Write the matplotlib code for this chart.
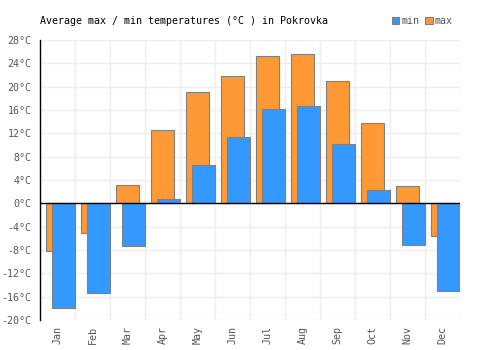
import numpy as np
import matplotlib
matplotlib.use("Agg")
import matplotlib.pyplot as plt

months = ["Jan", "Feb", "Mar", "Apr", "May", "Jun", "Jul", "Aug", "Sep", "Oct", "Nov", "Dec"]
t_max = [-8.2, -5.1, 3.1, 12.5, 19.1, 21.8, 25.2, 25.6, 20.9, 13.7, 2.9, -5.6]
t_min = [-18.0, -15.4, -7.3, 0.7, 6.5, 11.3, 16.1, 16.7, 10.1, 2.3, -7.2, -15.1]
yticks = list(range(-20, 29, 4))

plt.rcParams['font.family'] = ['DejaVu Sans Mono']
plt.rcParams['font.size'] = 7.2

fig = plt.figure(figsize=(5, 3.5), dpi=100)
ax = fig.add_axes([0.08, 0.0857, 0.84, 0.8])

x = np.arange(len(months))
ax.bar(x + 0.01, t_max, width=0.66, color="#ff9933", edgecolor="#808080", linewidth=0.8, zorder=2, label="max")
ax.bar(x + 0.17, t_min, width=0.68, color="#3399ff", edgecolor="#808080", linewidth=0.8, zorder=3, label="min")
ax.axhline(0, color="black", linewidth=1, zorder=4)

ax.set_xlim(-0.5, 11.5)
ax.set_ylim(-20, 28)
ax.set_yticks(yticks)
ax.set_yticklabels([str(v) + "°C" for v in yticks], color="#555555")
ax.set_xticks(x)
ax.set_xticklabels(months, rotation=90, color="#555555")
ax.set_xticks(np.arange(-0.5, 12, 1), minor=True)
ax.tick_params(axis="both", which="both", length=0)
ax.tick_params(axis="y", pad=6)
ax.tick_params(axis="x", pad=4)
ax.grid(True, axis="y", which="major", color="#eeeeee", linewidth=1, zorder=0)
ax.grid(True, axis="x", which="minor", color="#eeeeee", linewidth=1, zorder=0)
ax.set_axisbelow(True)
for s in ["top", "right", "bottom"]:
    ax.spines[s].set_visible(False)
ax.spines["left"].set_color("black")
ax.spines["left"].set_linewidth(1)

fig.text(0.08, 0.94, "Average max / min temperatures (°C ) in Pokrovka", fontsize=7.2, color="black", va="center")

h, l = ax.get_legend_handles_labels()
leg = fig.legend(h[::-1], l[::-1], loc="center right", bbox_to_anchor=(0.915, 0.94), ncol=2, frameon=False,
                 handlelength=0.75, handleheight=0.75, handletextpad=0.2, columnspacing=0.6, fontsize=7.2, borderpad=0)
for t in leg.get_texts():
    t.set_color("#555555")

fig.savefig("out.png", dpi=100)
